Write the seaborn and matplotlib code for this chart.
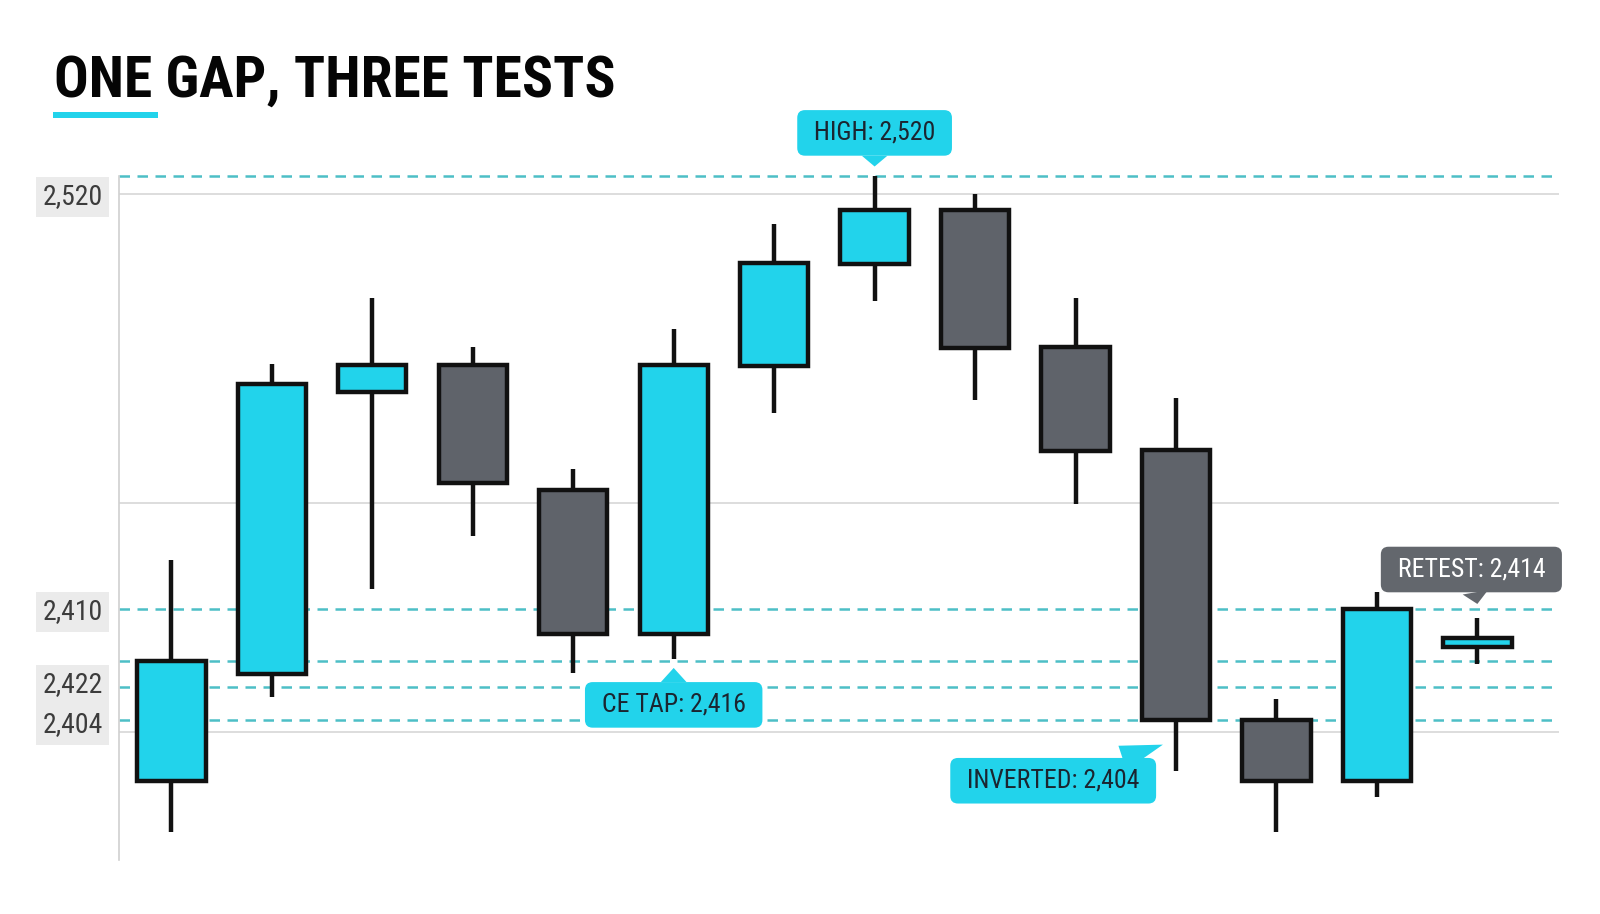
import numpy as np
import matplotlib
matplotlib.use('Agg')
import matplotlib.pyplot as plt
from matplotlib import font_manager
from matplotlib.patches import Rectangle
import seaborn as sns

# candles, left to right
opens  = [2390.5, 2414.1, 2476.4, 2482.2, 2454.8, 2422.9, 2482.0,
          2504.5, 2516.4, 2486.3, 2463.6, 2404.0, 2390.5, 2420.2]
highs  = [2439.3, 2482.5, 2497.1, 2486.3, 2459.3, 2490.3, 2513.3,
          2523.8, 2520.0, 2497.1, 2475.0, 2408.7, 2432.3, 2426.5]
lows   = [2379.3, 2409.0, 2433.0, 2444.5, 2414.3, 2417.5, 2471.7,
          2496.4, 2474.6, 2451.7, 2392.8, 2379.3, 2387.1, 2416.4]
closes = [2417.0, 2478.0, 2482.2, 2456.2, 2422.9, 2482.2, 2504.7,
          2516.4, 2486.1, 2463.4, 2404.0, 2390.5, 2428.5, 2422.2]

# horizontal reference levels
gap_levels = [2523.8, 2428.5, 2417.0, 2411.2, 2404.0]
grid_levels = [2520.0, 2451.9, 2401.3]

# y labels as printed on the chart
tick_pos = [2520.0, 2428.5, 2412.4, 2403.6]
tick_labels = ['2,520', '2,410', '2,422', '2,404']

# callouts
callout_labels = ['HIGH: 2,520', 'CE TAP: 2,416', 'INVERTED: 2,404', 'RETEST: 2,414']
callout_x = [7, 5, 9.87, 13]
callout_y = [2526.0, 2415.5, 2398.6, 2429.6]

CYAN = '#22d3eb'
GREY = '#5f636a'
INK = '#111111'

sns.set_theme(style='white')
available = {f.name for f in font_manager.fontManager.ttflist}
narrow = next((n for n in ['Roboto Condensed', 'Liberation Sans Narrow',
                           'DejaVu Sans Condensed'] if n in available), 'Roboto')
plt.rcParams['font.family'] = [narrow, 'DejaVu Sans']

fig = plt.figure(figsize=(16, 9.14), dpi=100)
ax = fig.add_axes([0.0746, 0.0592, 0.8996, 0.7477])

x = np.arange(len(opens))
o = np.array(opens)
c = np.array(closes)
colors = [CYAN if cc >= oo else GREY for oo, cc in zip(o, c)]

for lv in grid_levels:
    ax.axhline(lv, color='#dadada', lw=1.3, zorder=1)
for lv in gap_levels:
    ax.axhline(lv, color='#4dbfc6', lw=1.8, ls=(0, (4.2, 3.0)), zorder=2, clip_on=False)

ax.vlines(x, lows, highs, color=INK, lw=3.2, zorder=3, clip_on=False)
ax.bar(x, c - o, bottom=o, width=0.68, color=colors, edgecolor=INK,
       linewidth=3.2, zorder=4, clip_on=False)

ax.set_xlim(-0.518, 13.81)
ax.set_ylim(2373.2, 2523.8)
ax.set_xticks([])
ax.set_yticks(tick_pos)
ax.set_yticklabels(tick_labels, fontsize=20, color='#3c3c3c')
ax.tick_params(axis='y', length=0, pad=12)
for t in ax.get_yticklabels():
    t.set_bbox(dict(boxstyle='square,pad=0.24', fc='#ebebeb', ec='none'))

sns.despine(ax=ax, left=False, bottom=True)
ax.spines['left'].set_color('#d0d0d0')
ax.spines['left'].set_linewidth(1.2)

# callout boxes with pointers
offsets = [(0, 24.2), (0, -26.6), (-79, -26), (-4.3, 24.8)]
box_colors = [CYAN, CYAN, CYAN, '#63676d']
text_colors = ['#1b2530', '#1b2530', '#1b2530', 'white']
for lab, cx, cy, off, bc, tc in zip(callout_labels, callout_x, callout_y,
                                    offsets, box_colors, text_colors):
    ax.annotate(' ' + lab + ' ', xy=(cx, cy), xytext=off, textcoords='offset points',
                ha='center', va='center', fontsize=18.5, color=tc, zorder=6,
                annotation_clip=False,
                bbox=dict(boxstyle='round,pad=0.42,rounding_size=0.3', fc=bc, ec='none'),
                arrowprops=dict(arrowstyle='wedge,tail_width=1.0,shrink_factor=0.5',
                                fc=bc, ec='none', shrinkA=0, shrinkB=0))

fig.text(54 / 1600, 1 - 97 / 914, 'ONE GAP, THREE TESTS', fontsize=41.5,
         fontweight='bold', color='#050505', va='baseline', ha='left')
fig.add_artist(Rectangle((53 / 1600, 1 - 118 / 914), 105 / 1600, 6 / 914,
                         transform=fig.transFigure, color=CYAN, lw=0))

fig.savefig('out.png', dpi=100, facecolor='white')
